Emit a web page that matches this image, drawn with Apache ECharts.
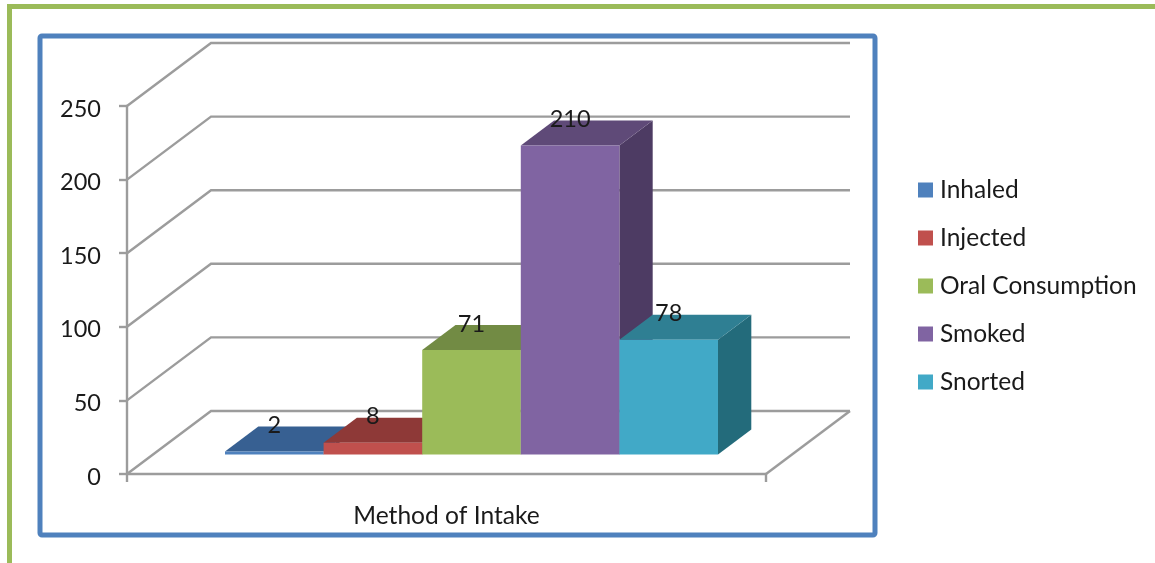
<!DOCTYPE html>
<html>
<head>
<meta charset="utf-8">
<style>html,body{margin:0;padding:0;background:#fff}#c{width:1155px;height:563px}</style>
<script src="https://cdn.jsdelivr.net/npm/echarts@6/dist/echarts.min.js"></script>
</head>
<body>
<div id="c"></div>
<script>
const categories = ['Method of Intake'];
const seriesNames = ['Inhaled', 'Injected', 'Oral Consumption', 'Smoked', 'Snorted'];
const intakeValues = [2, 8, 71, 210, 78];
const yTicks = [0, 50, 100, 150, 200, 250];

const frontColors = ['#4F81BD', '#C0504D', '#9BBB59', '#8064A2', '#41A9C7'];
const topColors = ['#376092', '#8E3937', '#728B44', '#5F4A78', '#2F7F93'];
const sideColors = ['#2C4D75', '#772C2A', '#5F7530', '#4D3B63', '#236B7B'];
const FONT = 'Lato';
const AXIS_GRAY = '#9c9c9c';
const TEXT = '#1a1a1a';

const chart = echarts.init(document.getElementById('c'), null, {renderer: 'canvas'});

function renderWall(params, api) {
  const cs = params.coordSys;
  const y = api.coord([0, api.value(1)])[1];
  const dx = 84, dy = 63;
  const style = {stroke: AXIS_GRAY, lineWidth: 2.4, fill: null};
  const children = [
    {type: 'polyline', shape: {points: [[cs.x, y], [cs.x + dx, y - dy], [cs.x + cs.width + dx, y - dy]]}, style}
  ];
  if (api.value(1) === 0) {
    children.push({type: 'line', shape: {x1: cs.x + cs.width, y1: y, x2: cs.x + cs.width + dx, y2: y - dy}, style});
  }
  return {type: 'group', children};
}

function renderBar(i) {
  return function (params, api) {
    const center = api.coord([0, 0])[0];
    const band = api.size([1, 0])[0];
    const w = band * 0.1543;
    const lift = 19.5, shift = 25, dx = 33.3, dy = 25;
    const x0 = center + shift + (i - 2.5) * w;
    const x1 = x0 + w;
    const yBase = api.coord([0, 0])[1] - lift;
    const yTop = api.coord([0, api.value(1)])[1] - lift;
    return {
      type: 'group',
      children: [
        {type: 'polygon', shape: {points: [[x1, yTop], [x1 + dx, yTop - dy], [x1 + dx, yBase - dy], [x1, yBase]]}, style: {fill: sideColors[i]}},
        {type: 'polygon', shape: {points: [[x0, yTop], [x0 + dx, yTop - dy], [x1 + dx, yTop - dy], [x1, yTop]]}, style: {fill: topColors[i]}},
        {type: 'rect', shape: {x: x0, y: yTop, width: w, height: yBase - yTop}, style: {fill: frontColors[i]}},
        {type: 'text', z2: 50, style: {text: String(api.value(1)), x: (x0 + x1) / 2, y: yTop - 26, align: 'center', verticalAlign: 'middle', fill: TEXT, fontSize: 23.5, fontFamily: FONT}}
      ]
    };
  };
}

chart.setOption({
  animation: false,
  backgroundColor: '#ffffff',
  graphic: {elements: [
    {type: 'polyline', silent: true, z: -1, shape: {points: [[9.5, 563], [9.5, 6.5], [1155, 6.5]]}, style: {stroke: '#9BBB59', lineWidth: 5, fill: null}},
    {type: 'rect', silent: true, z: -1, shape: {x: 40, y: 36, width: 835, height: 499, r: 2}, style: {stroke: '#4F81BD', lineWidth: 5, fill: null}}
  ]},
  legend: {
    data: seriesNames,
    orient: 'vertical',
    left: 913,
    top: 171,
    itemWidth: 15,
    itemHeight: 15,
    itemGap: 20,
    icon: 'rect',
    selectedMode: false,
    textStyle: {fontFamily: FONT, fontSize: 24.5, color: TEXT, padding: [0, 0, 0, 2], height: 28, lineHeight: 28}
  },
  grid: {left: 127, right: 389, top: 106, bottom: 89, containLabel: false},
  xAxis: {
    type: 'category',
    data: categories,
    axisLine: {lineStyle: {color: AXIS_GRAY, width: 2.4}},
    axisTick: {show: true, length: 8, lineStyle: {color: AXIS_GRAY, width: 2.4}},
    axisLabel: {fontFamily: FONT, fontSize: 24.6, color: TEXT, margin: 30}
  },
  yAxis: {
    type: 'value',
    min: 0,
    max: 250,
    interval: 50,
    splitLine: {show: false},
    axisLine: {show: true, lineStyle: {color: AXIS_GRAY, width: 2.4}},
    axisTick: {show: true, length: 8, lineStyle: {color: AXIS_GRAY, width: 2.4}},
    axisLabel: {
      margin: 26,
      formatter: '{v|{value}}',
      rich: {v: {fontFamily: FONT, fontSize: 23.5, color: TEXT, padding: [6, 0, 0, 0]}}
    }
  },
  series: [
    {name: 'walls', type: 'custom', coordinateSystem: 'cartesian2d', silent: true, z: 1, clip: false,
     encode: {x: 0, y: 1}, data: yTicks.map(v => [0, v]), renderItem: renderWall}
  ].concat(seriesNames.map((name, i) => ({
    name,
    type: 'custom',
    coordinateSystem: 'cartesian2d',
    z: 2 + i,
    clip: false,
    itemStyle: {color: frontColors[i]},
    encode: {x: 0, y: 1},
    data: [[0, intakeValues[i]]],
    renderItem: renderBar(i)
  })))
});
</script>
</body>
</html>
